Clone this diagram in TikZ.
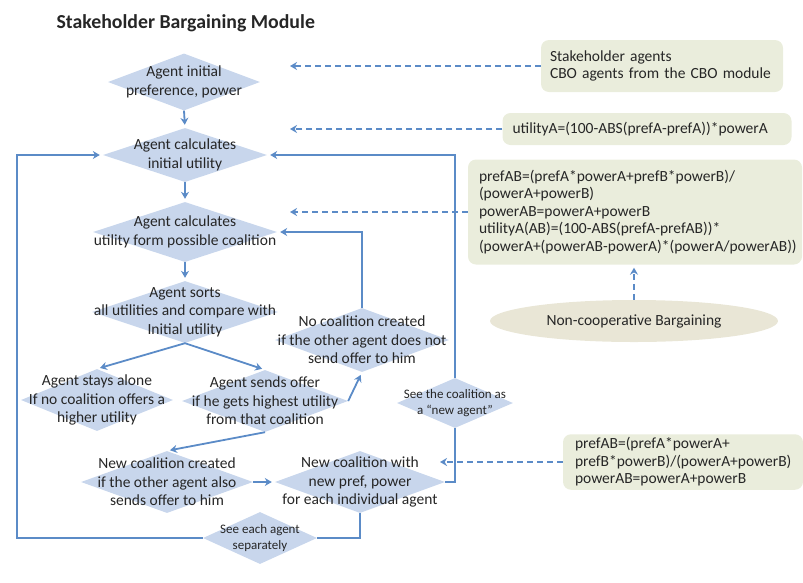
\documentclass[tikz,border=0pt]{standalone}
\usepackage{fontspec}
\setmainfont{Carlito}
\usetikzlibrary{shapes.geometric, arrows.meta}

\definecolor{diafill}{RGB}{200,214,236}
\definecolor{flowline}{RGB}{91,139,199}
\definecolor{boxfill}{RGB}{234,237,220}
\definecolor{ovalfill}{RGB}{233,230,214}
\definecolor{inktext}{RGB}{38,38,38}

\tikzset{
  dia/.style={diamond, fill=diafill, inner sep=0pt},
  diatext/.style={align=center, text=inktext, font=\fontsize{15.5}{18.5}\selectfont},
  smalltext/.style={align=center, text=inktext, font=\fontsize{13}{16}\selectfont},
  infobox/.style={rounded corners=8pt, fill=boxfill, align=left, inner xsep=11pt,
    text=inktext, font=\fontsize{15.5}{17.5}\selectfont,
    execute at begin node={\hyphenpenalty=10000\exhyphenpenalty=10000}},
  link/.style={draw=flowline, line width=1.8pt},
  flow/.style={link, shorten >=3pt, -{Stealth[length=7pt, width=8pt]}},
  feed/.style={link, dash pattern=on 6pt off 4pt, -{Stealth[length=7pt, width=8pt]}}
}

\begin{document}
\begin{tikzpicture}[x=1pt, y=-1pt]
  % Fix the page to the size of the picture
  \useasboundingbox (0,0) rectangle (803,582);

  % Title
  \node[anchor=west, text=inktext, font=\fontsize{19.8}{24}\selectfont\bfseries] (title) at (53,23) {Stakeholder Bargaining Module};

  % Diamonds of the main flow
  \node[dia, minimum width=152pt, minimum height=57pt, label={[diatext]center:{Agent initial\\preference, power}}] (init) at (184,82) {};
  \node[dia, minimum width=164pt, minimum height=54pt, label={[diatext]center:{Agent calculates\\initial utility}}] (calc) at (185,155) {};
  \node[dia, minimum width=184pt, minimum height=60pt, label={[diatext]center:{Agent calculates\\utility form possible coalition}}] (coal) at (185,232) {};
  \node[dia, minimum width=186pt, minimum height=62pt, label={[diatext]center:{Agent sorts\\all utilities and compare with\\Initial utility}}] (sort) at (185,312) {};
  \node[dia, minimum width=152pt, minimum height=62pt, label={[diatext]center:{Agent stays alone\\If no coalition offers a\\higher utility}}] (alone) at (97,400) {};
  \node[dia, minimum width=166pt, minimum height=62pt, label={[diatext]center:{Agent sends offer\\if he gets highest utility\\from that coalition}}] (offer) at (265,401) {};
  \node[dia, minimum width=174pt, minimum height=64pt, label={[diatext]center:{No coalition created\\if the other agent does not\\send offer to him}}] (nocoal) at (362,340) {};
  \node[dia, minimum width=116pt, minimum height=50pt, label={[smalltext]center:{See the coalition as\\a ``new agent''}}] (newag) at (455,403) {};
  \node[dia, minimum width=172pt, minimum height=62pt, label={[diatext]center:{New coalition created\\if the other agent also\\sends offer to him}}] (created) at (167,482) {};
  \node[dia, minimum width=170pt, minimum height=62pt, label={[diatext]center:{New coalition with\\new pref, power\\for each individual agent}}] (newco) at (360,482) {};
  \node[dia, minimum width=114pt, minimum height=52pt, label={[smalltext]center:{See each agent\\separately}}] (sep) at (260,538) {};

  % Boxes with the inputs and formulas
  \node[infobox, inner xsep=9pt, text width=224pt, minimum height=52pt] (agents) at (662,66) {Stakeholder agents\\CBO agents from the CBO module};
  \node[infobox, inner xsep=10pt, text width=269pt, minimum height=32pt] (utilbox) at (647,129) {utilityA=(100-ABS(prefA-prefA))*powerA};
  \node[infobox, text width=312pt, minimum height=105pt] (formbox) at (635,212) {prefAB=(prefA*powerA+prefB*powerB)/\\(powerA+powerB)\\powerAB=powerA+powerB\\utilityA(AB)=(100-ABS(prefA-prefAB))*\\(powerA+(powerAB-powerA)*(powerA/powerAB))};
  \node[infobox, inner xsep=12pt, text width=216pt, minimum height=55pt] (newform) at (683,462) {prefAB=(prefA*powerA+\\prefB*powerB)/(powerA+powerB)\\powerAB=powerA+powerB};
  \node[ellipse, fill=ovalfill, minimum width=288pt, minimum height=42pt, text=inktext, font=\fontsize{15.5}{18}\selectfont] (noncoop) at (634,321) {Non-cooperative Bargaining};

  % Columns where the dashed arrows stop
  \coordinate (feedend) at (290,0);
  \coordinate (newend) at (440,0);

  % Dashed arrows from the boxes
  \draw[feed] (agents.west) -- (agents.west -| feedend);
  \draw[feed] (utilbox.west) -- (utilbox.west -| feedend);
  \draw[feed] (formbox.west) -- (formbox.west -| feedend);
  \draw[feed, shorten >=3pt] (noncoop.north) -- (noncoop.north |- formbox.south);
  \draw[feed] (newform.west) -- (newform.west -| newend);

  % Main flow
  \draw[flow] (init.south) -- (calc.north);
  \draw[flow] (calc.south) -- (coal.north);
  \draw[flow] (coal.south) -- (sort.north);
  \draw[flow] (sort.south) -- (alone.north);
  \draw[flow] (sort.south) -- (offer.north);
  \draw[flow] (offer.east) -- (nocoal.south);
  \draw[flow] (nocoal.north) |- (coal.east);
  \draw[flow] (offer.south) -- (created.north);
  \draw[flow] (created.east) -- (newco.west);

  % Loops back to the start
  \draw[link] (newco.east) -| (newag.south);
  \draw[flow] (newag.north) |- (calc.east);
  \draw[link] (newco.south) |- (sep.east);
  \draw[flow] (sep.west) -| ([xshift=-86pt]calc.west) -- (calc.west);
\end{tikzpicture}
\end{document}
